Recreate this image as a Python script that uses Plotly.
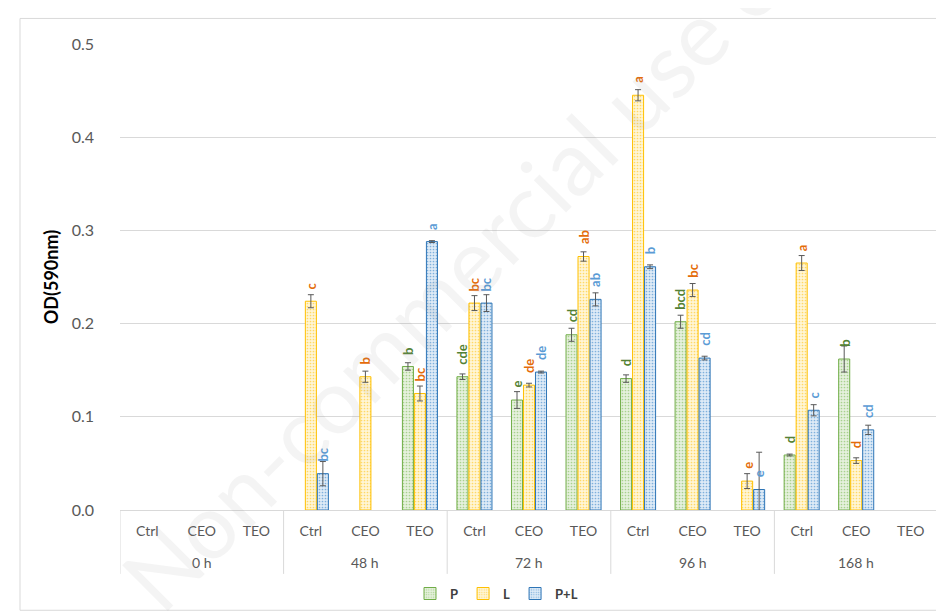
import plotly.graph_objects as go

# ---------------- data ----------------
group_labels = ["0 h", "48 h", "72 h", "96 h", "168 h"]
treatments = ["Ctrl", "CEO", "TEO"] * 5

P_vals = [None, None, None, None, None, 0.154, 0.143, 0.118, 0.188, 0.141, 0.202, None, 0.059, 0.162, None]
P_err = [0, 0, 0, 0, 0, 0.004, 0.003, 0.009, 0.007, 0.004, 0.007, 0, 0.001, 0.014, 0]
P_let = ["", "", "", "", "", "b", "cde", "e", "cd", "d", "bcd", "", "d", "b", ""]

L_vals = [None, None, None, 0.224, 0.143, 0.125, 0.222, 0.134, 0.272, 0.445, 0.236, 0.031, 0.265, 0.053, None]
L_err = [0, 0, 0, 0.007, 0.006, 0.008, 0.008, 0.002, 0.005, 0.006, 0.007, 0.008, 0.008, 0.003, 0]
L_let = ["", "", "", "c", "b", "bc", "bc", "de", "ab", "a", "bc", "e", "a", "d", ""]

PL_vals = [None, None, None, 0.039, None, 0.288, 0.222, 0.148, 0.226, 0.261, 0.163, 0.022, 0.107, 0.086, None]
PL_err = [0, 0, 0, 0.013, 0, 0.001, 0.009, 0.001, 0.007, 0.002, 0.002, 0.040, 0.006, 0.005, 0]
PL_let = ["", "", "", "bc", "", "a", "bc", "de", "ab", "b", "cd", "e", "c", "cd", ""]

y_ticks = [0.0, 0.1, 0.2, 0.3, 0.4, 0.5]

# ---------------- styling ----------------
W, H = 944, 613
ML, MR, MT, MB = 112, 14, 36, 103
BARGAP, GROUPGAP = 0.34, 0.08
FONT = "Lato, 'Noto Sans', sans-serif"
plot_w = W - ML - MR
plot_h = H - MT - MB


def py(px_y):
    """pixel row -> paper y"""
    return (H - MB - px_y) / plot_h


def px(px_x):
    return (px_x - ML) / plot_w


series = [
    dict(name="P", y=P_vals, err=P_err, let=P_let, line="#70ad47", bg="#e6f1dd", fg="#a9d18e", txt="#548235"),
    dict(name="L", y=L_vals, err=L_err, let=L_let, line="#ffc000", bg="#fff6d6", fg="#ffd966", txt="#e46c0a"),
    dict(name="P+L", y=PL_vals, err=PL_err, let=PL_let, line="#2e75b6", bg="#deebf7", fg="#7fb0dc", txt="#5b9bd5"),
]

xpos = list(range(len(treatments)))
n_per_group = 3

fig = go.Figure()
for s in series:
    fig.add_trace(go.Bar(
        x=xpos, y=s["y"], name=s["name"],
        marker=dict(color=s["bg"], line=dict(color=s["line"], width=1),
                    pattern=dict(shape=".", fgcolor=s["fg"], bgcolor=s["bg"],
                                 size=3, solidity=0.25, fillmode="replace")),
        error_y=dict(type="data", array=s["err"], color="#595959", thickness=1, width=3),
    ))

slot = plot_w / len(treatments) * (1 - BARGAP) / 3
annotations = []
for k, s in enumerate(series):
    for i, (v, lab) in enumerate(zip(s["y"], s["let"])):
        if v is None or not lab:
            continue
        annotations.append(dict(
            x=xpos[i], y=v, xref="x", yref="y", xshift=(k - 1) * slot, yshift=11,
            text=f"<b>{lab}</b>", textangle=-90, showarrow=False, xanchor="center", yanchor="bottom",
            font=dict(family=FONT, size=13, color=s["txt"]), borderpad=0,
        ))

# group labels (second level of the category axis)
for g, lab in enumerate(group_labels):
    centre = sum(xpos[g * n_per_group:(g + 1) * n_per_group]) / n_per_group
    annotations.append(dict(
        x=centre, y=py(563), xref="x", yref="paper", text=lab, showarrow=False,
        xanchor="center", yanchor="middle", font=dict(family=FONT, size=14, color="#595959"),
    ))

# watermark
annotations.append(dict(
    x=px(484), y=py(232), xref="paper", yref="paper",
    text="Non-commercial use only", textangle=-45, showarrow=False,
    font=dict(family=FONT, size=90, color="rgba(150,150,150,0.10)"),
))

# group dividers of the two-level axis
shapes = []
for g in range(len(group_labels) + 1):
    xb = g * n_per_group - 0.5
    shapes.append(dict(type="line", xref="x", yref="paper", x0=xb, x1=xb, y0=0, y1=py(575),
                       line=dict(color="#d9d9d9", width=1)))
shapes.append(dict(type="rect", xref="paper", yref="paper",
                   x0=px(12), x1=px(943), y0=py(612), y1=py(10),
                   line=dict(color="#d9d9d9", width=1), layer="below"))

fig.update_layout(
    width=W, height=H,
    margin=dict(l=ML, r=MR, t=MT, b=MB),
    paper_bgcolor="white", plot_bgcolor="white",
    barmode="group", bargap=BARGAP, bargroupgap=GROUPGAP,
    font=dict(family=FONT, size=14, color="#595959"),
    showlegend=True,
    legend=dict(orientation="h", x=px(402), xanchor="left", y=py(595), yanchor="middle",
                font=dict(family=FONT, size=13, color="#404040", weight="bold"),
                itemwidth=30, traceorder="normal"),
    xaxis=dict(range=[-0.5, len(treatments) - 0.5], tickvals=xpos, ticktext=treatments,
               showline=True, linecolor="#d9d9d9", linewidth=1, ticks="", showgrid=False,
               zeroline=False, ticklabelstandoff=8, tickfont=dict(size=14, color="#595959")),
    yaxis=dict(range=[0, 0.5], tickvals=y_ticks, tickformat=".1f", showgrid=True,
               gridcolor="#d9d9d9", gridwidth=1, zeroline=False, ticks="", ticklabelstandoff=25,
               tickfont=dict(size=16, color="#595959"),
               title=dict(text="<b>OD(590nm)</b>", font=dict(size=18, color="#000000"), standoff=8)),
    annotations=annotations,
    shapes=shapes,
)

fig.write_html("out.html")
